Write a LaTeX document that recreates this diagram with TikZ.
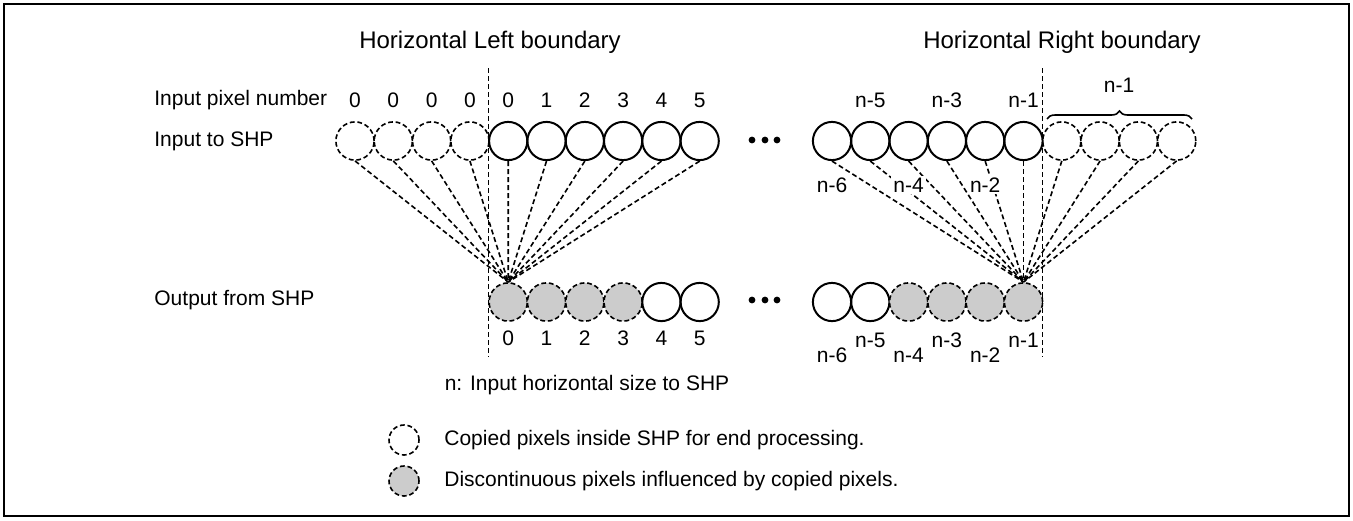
\documentclass[tikz,border=0pt]{standalone}
\usepackage{fontspec}
\setmainfont{Liberation Sans}
\usetikzlibrary{decorations.pathreplacing,calc}

\tikzset{
  pix/.style={circle,draw,line width=1pt,minimum size=19.1pt,inner sep=0pt},
  copied/.style={pix,line width=0.8pt,dash pattern=on 2.4pt off 1.4pt},
  disc/.style={copied,fill=gray!40},
  tap/.style={line width=0.8pt,dash pattern=on 2.5pt off 1.5pt},
  lbl/.style={font=\fontsize{10.5}{12}\selectfont,inner sep=1pt},
  head/.style={font=\fontsize{12}{14}\selectfont,inner sep=1pt},
}

\begin{document}
\begin{tikzpicture}[x=0.5pt,y=-0.5pt]
  \useasboundingbox (0,0) rectangle (1353,520);
  \draw[line width=1pt] (4,4) rectangle (1349,516);

  % headings and row names
  \node[head] (lhead) at (490,42) {Horizontal Left boundary};
  \node[head] (rhead) at (1062,42) {Horizontal Right boundary};
  \node[lbl,anchor=west] (numrow) at (152,100) {Input pixel number};
  \node[lbl,anchor=west] (inrow) at (152,141) {Input to SHP};
  \node[lbl,anchor=west] (outrow) at (152,300) {Output from SHP};

  % left side: input pixels
  \foreach \i/\s/\t in {1/copied/0,2/copied/0,3/copied/0,4/copied/0,
                        5/pix/0,6/pix/1,7/pix/2,8/pix/3,9/pix/4,10/pix/5}
  {
    \node[\s] (lin\i) at ({355+38.3*(\i-1)},141) {};
    \node[lbl] (lnum\i) at ({355+38.3*(\i-1)},100) {\t};
  }
  % left side: output pixels
  \foreach \i/\s in {1/disc,2/disc,3/disc,4/disc,5/pix,6/pix}
  {
    \node[\s] (lout\i) at ({508.2+38.3*(\i-1)},302) {};
    \pgfmathtruncatemacro{\k}{\i-1}
    \node[lbl] (lonum\i) at ({508.2+38.3*(\i-1)},338) {\k};
  }
  \foreach \i in {1,...,10}
    \draw[tap] (lin\i.south) -- (lout1.north);

  % right side: input pixels
  \foreach \i/\s in {1/pix,2/pix,3/pix,4/pix,5/pix,6/pix,
                     7/copied,8/copied,9/copied,10/copied}
    \node[\s] (rin\i) at ({832+38.3*(\i-1)},141) {};
  % right side: output pixels
  \foreach \i/\s in {1/pix,2/pix,3/disc,4/disc,5/disc,6/disc}
    \node[\s] (rout\i) at ({832+38.3*(\i-1)},302) {};
  \foreach \i in {1,...,10}
    \draw[tap] (rin\i.south) -- (rout6.north);

  \node[lbl] (rnum2) at (870.3,100) {n-5};
  \node[lbl] (rnum4) at (946.9,100) {n-3};
  \node[lbl] (rnum6) at (1023.5,100) {n-1};
  \node[lbl,fill=white] (rnum1) at (832,185) {n-6};
  \node[lbl,fill=white] (rnum3) at (908.6,185) {n-4};
  \node[lbl,fill=white] (rnum5) at (985.2,185) {n-2};

  \node[lbl] (ronum1) at (832,355) {n-6};
  \node[lbl] (ronum2) at (870.3,340) {n-5};
  \node[lbl] (ronum3) at (908.6,355) {n-4};
  \node[lbl] (ronum4) at (946.9,340) {n-3};
  \node[lbl] (ronum5) at (985.2,355) {n-2};
  \node[lbl] (ronum6) at (1023.5,340) {n-1};

  % copied pixels bracket
  \draw[line width=0.8pt,decorate,decoration={brace,amplitude=4pt}]
    (1047,119) -- (1192,119);
  \node[lbl] (copyn) at (1119,85) {n-1};

  % boundaries
  \coordinate (lbtop) at (488.5,68);
  \coordinate (lbbot) at (488.5,357);
  \coordinate (rbtop) at (1042.5,68);
  \coordinate (rbbot) at (1042.5,357);
  \draw[tap] (lbtop) -- (lbbot);
  \draw[tap] (rbtop) -- (rbbot);

  % omitted pixels
  \foreach \y in {140,300}
    \foreach \x in {752,765,777}
      \fill (\x,\y) circle (1.7pt);

  % notes
  \node[lbl] (nnote) at (587,385) {n: Input horizontal size to SHP};
  \node[copied,minimum size=15pt] (keycopy) at (404,440) {};
  \node[disc,minimum size=15pt] (keydisc) at (404,481) {};
  \node[lbl,anchor=west] (txtcopy) at (442,440) {Copied pixels inside SHP for end processing.};
  \node[lbl,anchor=west] (txtdisc) at (442,481) {Discontinuous pixels influenced by copied pixels.};
\end{tikzpicture}
\end{document}
